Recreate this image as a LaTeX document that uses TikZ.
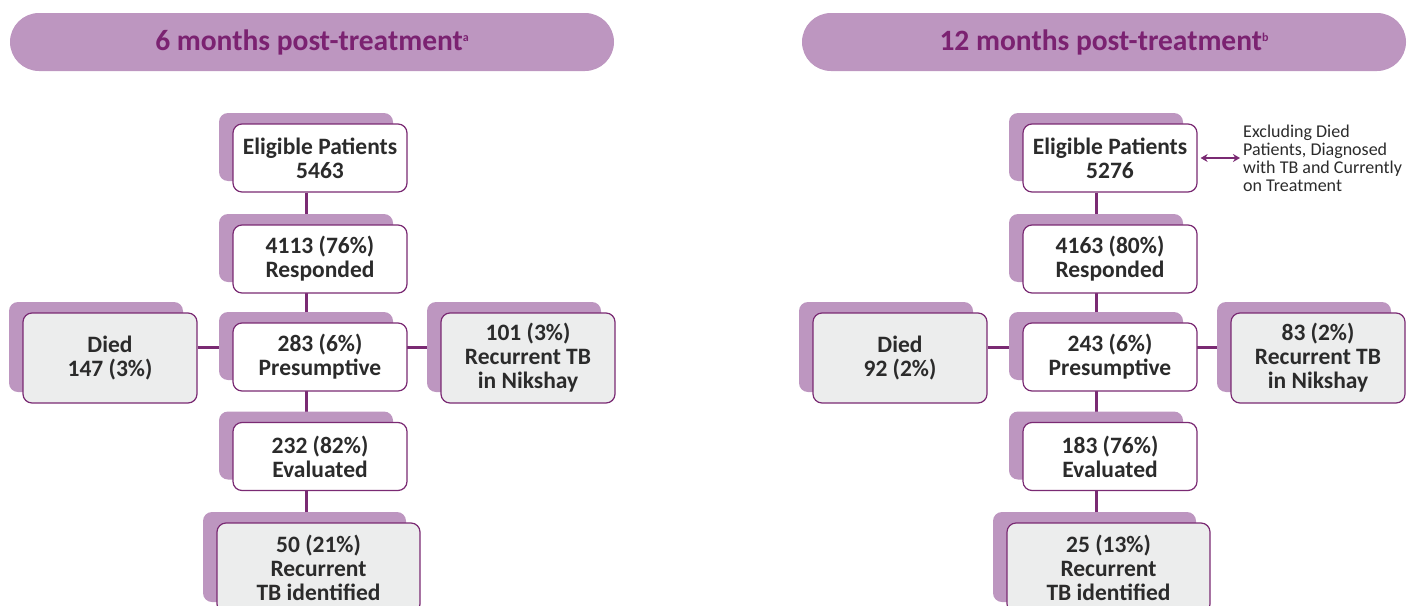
\documentclass[tikz,border=0pt]{standalone}
\usepackage{fontspec}
\setmainfont{Carlito}
\usetikzlibrary{shadows,backgrounds,arrows.meta}
\definecolor{hdr}{HTML}{BD96C0}
\definecolor{dpurple}{HTML}{7A2A73}
\definecolor{htext}{HTML}{7B2271}
\definecolor{tgray}{HTML}{2B2B2B}
\definecolor{boxgray}{HTML}{ECEDED}
\begin{document}
\begin{tikzpicture}[x=1pt,y=-1pt,
  box/.style={draw=dpurple, line width=1.2pt, rounded corners=9pt, fill=white,
    minimum width=174pt, minimum height=68pt, align=center, inner sep=0pt,
    font=\bfseries\fontsize{23.5}{24}\selectfont, text=tgray,
    general shadow={shadow xshift=-14pt, shadow yshift=11pt, fill=hdr}},
  sidebox/.style={box, fill=boxgray, minimum height=90pt},
  hdrbox/.style={fill=hdr, rounded corners=29pt, minimum width=604pt, minimum height=58pt,
    inner sep=0pt, text=htext, font=\bfseries\fontsize{29.5}{32}\selectfont},
  conn/.style={draw=dpurple, line width=3pt},
  note/.style={align=left, anchor=west, inner sep=0pt, text=tgray, font=\fontsize{18}{18}\selectfont},
  sup/.style={}
]
\useasboundingbox (0,0) rectangle (1421,605);
\clip (0,0) rectangle (1421,605);

% headers
\node[hdrbox] (hl) at (312,42) {6 months post-treatment\raisebox{9pt}{\fontsize{12}{12}\selectfont a}};
\node[hdrbox] (hr) at (1104,42) {12 months post-treatment\raisebox{9pt}{\fontsize{12}{12}\selectfont b}};

% left column
\coordinate (lspine) at (306,0);
\node[box] (lelig) at (320,158) {Eligible Patients\\5463};
\node[box] (lresp) at (320,259) {4113 (76\%)\\Responded};
\node[box] (lpres) at (320,357) {283 (6\%)\\Presumptive};
\node[sidebox] (ldied) at (110,358) {Died\\147 (3\%)};
\node[sidebox] (lnik) at (528,358) {101 (3\%)\\Recurrent TB\\in Nikshay};
\node[box] (leval) at (320,456.5) {232 (82\%)\\Evaluated};
\node[sidebox, minimum width=203pt] (lident) at (318.5,568) {50 (21\%)\\Recurrent\\TB identified};

% right column
\coordinate (rspine) at (1096,0);
\node[box] (relig) at (1110,158) {Eligible Patients\\5276};
\node[box] (rresp) at (1110,259) {4163 (80\%)\\Responded};
\node[box] (rpres) at (1110,357) {243 (6\%)\\Presumptive};
\node[sidebox] (rdied) at (900,358) {Died\\92 (2\%)};
\node[sidebox] (rnik) at (1318,358) {83 (2\%)\\Recurrent TB\\in Nikshay};
\node[box] (reval) at (1110,456.5) {183 (76\%)\\Evaluated};
\node[sidebox, minimum width=203pt] (rident) at (1108.5,568) {25 (13\%)\\Recurrent\\TB identified};

\node[note] (rnote) at (1243,158) {Excluding Died\\Patients, Diagnosed\\with TB and Currently\\on Treatment};
\draw[dpurple, line width=1.7pt, {Stealth[length=7pt,width=8pt]}-{Stealth[length=7pt,width=8pt]}]
  ([xshift=3pt]relig.east) -- ([xshift=-3pt]rnote.west);

\begin{scope}[on background layer]
  \coordinate (lh) at (0,347);
  \draw[conn] (lelig.south -| lspine) -- (lident.north -| lspine);
  \draw[conn] (ldied.east |- lh) -- (lnik.west |- lh);
  \draw[conn] (relig.south -| rspine) -- (rident.north -| rspine);
  \draw[conn] (rdied.east |- lh) -- (rnik.west |- lh);
\end{scope}
\end{tikzpicture}
\end{document}
